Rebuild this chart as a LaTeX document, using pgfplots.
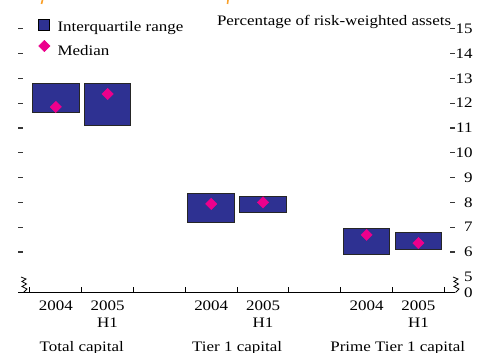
\documentclass[border=0pt]{standalone}
\usepackage{fontspec}
\setmainfont{Liberation Serif}[FakeStretch=1.17]
\usepackage{pgfplots}
\pgfplotsset{compat=1.18}
\usepackage{pgfplotstable}
\definecolor{boxblue}{RGB}{46,49,146}
\definecolor{medpink}{RGB}{236,0,140}
\definecolor{tickgrey}{RGB}{55,55,55}
\definecolor{titleorange}{RGB}{250,160,40}

% interquartile range (lo, hi) and median, per group/year
\pgfplotstableread{
x   lo    hi    med
0.5 11.63 12.79 11.85
1.5 11.09 12.79 12.37
3.5 7.20  8.35  7.94
4.5 7.58  8.23  8.00
6.5 5.91  6.93  6.69
7.5 6.11  6.79  6.36
}\ranges

\pgfplotsset{frame/.style={x=51.8pt, y=24.8pt,
    xmin=-0.23, xmax=8.2, ymin=4.367, ymax=15.2}}

\begin{document}
\begin{tikzpicture}[font=\fontsize{14.5}{17.5}\selectfont]
\begin{axis}[
    frame,
    clip mode=individual,
    axis line style={draw=none},
    tick align=inside,
    major tick length=5pt,
    major tick style={tickgrey, line width=1.1pt},
    xtick={0,...,8}, xticklabels={}, xtick pos=bottom,
    x tick style={line width=0.9pt, black},
    extra x ticks={0.5,1.5,3.5,4.5,6.5,7.5},
    extra x tick labels={2004,{2005\\H1},2004,{2005\\H1},2004,{2005\\H1}},
    extra x tick style={major tick length=0pt,
        xticklabel style={align=center, anchor=north, inner sep=0pt, yshift=-8pt}},
    ytick={6,...,15}, ytick pos=both, yticklabel pos=right,
    yticklabel style={anchor=east, inner sep=0pt, xshift=18pt},
    extra y ticks={5,4.367}, extra y tick labels={5,0},
    extra y tick style={major tick length=0pt},
    /pgf/number format/assume math mode=true,
    ybar stacked, bar width=0.9,
    legend style={draw=none, fill=none, at={(axis cs:0.108,15.47)}, anchor=north west,
        nodes={inner sep=1.5pt, text height=10pt, text depth=3pt},
        row sep=4.5pt, column sep=6pt},
    legend cell align=left,
]
\addlegendimage{only marks, mark=square*, mark size=5.5pt,
    mark options={fill=boxblue, draw=black, line width=0.8pt, yshift=-3pt}}
\addlegendentry{Interquartile range}
\addlegendimage{only marks, mark=square*, mark size=4pt,
    mark options={rotate=45, fill=medpink, draw=medpink}}
\addlegendentry{Median}

% stacked: invisible base up to the lower quartile, then the box
\addplot[draw=none, fill=none, forget plot] table[x=x, y=lo] {\ranges};
\addplot[fill=boxblue, draw=black!85, line width=0.9pt, forget plot]
    table[x=x, y expr=\thisrow{hi}-\thisrow{lo}] {\ranges};

\draw[black, line width=0.9pt] (rel axis cs:0,0) -- (rel axis cs:1,0);
\node[anchor=base east] at (rel axis cs:1,1) [yshift=-1.2pt] {Percentage of risk-weighted assets};
\node[anchor=base] at (axis cs:1,4.367) [yshift=-59pt] {Total capital};
\node[anchor=base] at (axis cs:4,4.367) [yshift=-59pt] {Tier 1 capital};
\node[anchor=base] at (axis cs:7.1,4.367) [yshift=-59pt] {Prime Tier 1 capital};
\end{axis}
% medians on an overlaid axis with the same frame (no stacking there)
\begin{axis}[frame, hide axis, clip=false]
\addplot[only marks, color=medpink, mark=square*, mark size=4pt,
    mark options={rotate=45, fill=medpink, draw=medpink}]
    table[x=x, y=med] {\ranges};
\end{axis}
\begin{scope}[x=1pt, y=1pt]
% axis breaks
\draw[black, line width=0.8pt] (3,15.5) -- (8,13.5) -- (4,11) -- (8.5,8.5) -- (4,6) -- (9,3.5) -- (5.5,0);
\draw[black, line width=0.8pt] (435,15.5) -- (440,13.5) -- (436,11) -- (440.5,8.5) -- (436,6) -- (441,3.5) -- (437.5,0);
% fragments of the cropped title rule
\draw[titleorange, line width=1.6pt] (24.5,292.5) -- (23.5,288.5);
\draw[titleorange, line width=1.6pt] (210,292.5) -- (209.5,288.5);
\pgfresetboundingbox
\path[use as bounding box] (-18,-60.5) rectangle (461,292.5);
\end{scope}
\end{tikzpicture}
\end{document}
